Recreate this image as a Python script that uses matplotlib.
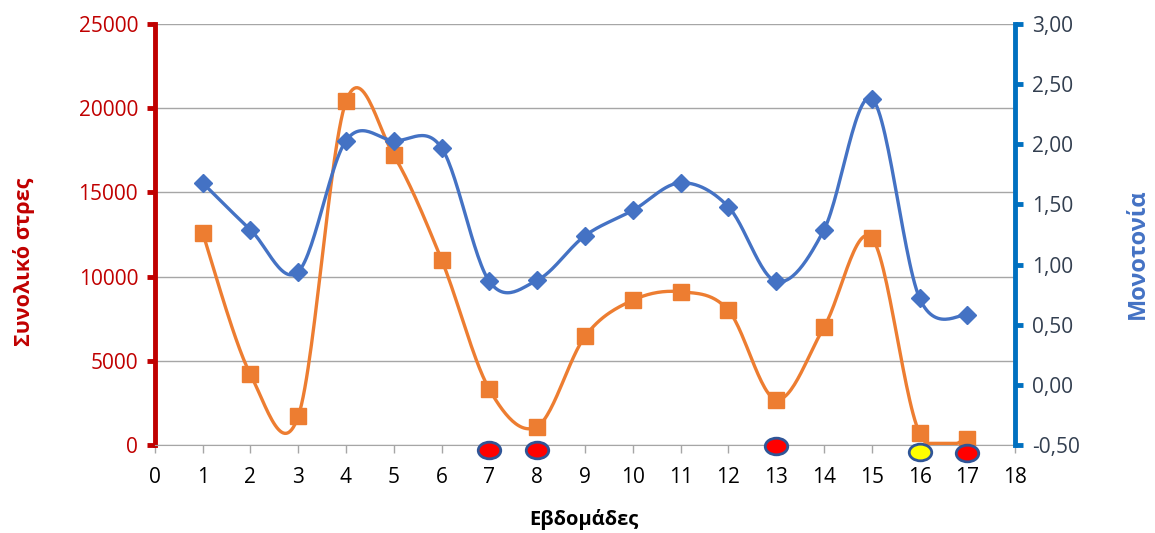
import numpy as np
import matplotlib
matplotlib.use("Agg")
import matplotlib.pyplot as plt
from matplotlib.markers import MarkerStyle
from matplotlib.transforms import Affine2D, offset_copy

plt.rcParams['font.family'] = ['Open Sans', 'DejaVu Sans']

weeks = list(range(1, 18))
stress = [12600, 4200, 1700, 20400, 17200, 11000, 3300, 1100, 6450,
          8600, 9100, 8000, 2700, 7000, 12300, 700, 350]
monotony = [1.68, 1.29, 0.94, 2.03, 2.03, 1.97, 0.86, 0.87, 1.24,
            1.45, 1.68, 1.48, 0.86, 1.29, 2.38, 0.72, 0.58]
flag_weeks = [7, 8, 13, 16, 17]
flag_colors = ["#FF0000", "#FF0000", "#FF0000", "#FFFF00", "#FF0000"]
flag_drop = [-5, -5, -1, -7, -8]   # vertical offset in px below the axis

RED = "#C00000"
BLUE_AX = "#0070C0"
ORANGE = "#ED7D31"
BLUE = "#4472C4"
W, H = 1155, 533


def smooth(x, y, n=30, floor=None):
    """Excel-style smoothed line (Bezier through the points)."""
    x = np.asarray(x, float)
    y = np.asarray(y, float)
    px = np.concatenate([[x[0]], x, [x[-1]]])
    py = np.concatenate([[y[0]], y, [y[-1]]])
    xs, ys = [], []
    t = np.linspace(0, 1, n)
    for i in range(1, len(px) - 2):
        p0, p1, p2, p3 = (np.array([px[j], py[j]]) for j in range(i - 1, i + 3))
        c1 = p1 + (p2 - p0) / 6
        c2 = p2 - (p3 - p1) / 6
        b = (((1 - t) ** 3)[:, None] * p1 + (3 * (1 - t) ** 2 * t)[:, None] * c1
             + (3 * (1 - t) * t ** 2)[:, None] * c2 + (t ** 3)[:, None] * p2)
        xs.extend(b[:, 0])
        ys.extend(b[:, 1])
    ys = np.array(ys)
    if floor is not None:
        ys = np.maximum(ys, floor)
    return np.array(xs), ys


fig = plt.figure(figsize=(W / 100, H / 100), dpi=100)
ax = fig.add_axes([0.134, 0.165, 0.745, 0.79])
ax2 = ax.twinx()

# stress on left axis
sx, sy = smooth(weeks, stress, floor=100)
ax.plot(sx, sy, color=ORANGE, lw=2.4, zorder=3)
ax.plot(weeks, stress, ls="none", marker="s", ms=12, color=ORANGE, zorder=4)

# monotony on right axis
mx, my = smooth(weeks, monotony)
ax2.plot(mx, my, color=BLUE, lw=2.4, zorder=3)
ax2.plot(weeks, monotony, ls="none", marker="D", ms=9.5, color=BLUE, zorder=4)

ax.set_xlim(0, 18)
ax.set_ylim(0, 25000)
ax2.set_ylim(-0.5, 3.0)
ax.set_xticks(range(0, 19))
ax.set_yticks(range(0, 25001, 5000))
ax2.set_yticks(np.arange(-0.5, 3.01, 0.5))
ax2.set_yticklabels([f"{v:.2f}".replace(".", ",") for v in np.arange(-0.5, 3.01, 0.5)])

ax.grid(axis="y", color="#A6A6A6", lw=1)
ax.set_axisbelow(True)

for a in (ax, ax2):
    a.spines["top"].set_visible(False)
ax.spines["right"].set_visible(False)
ax2.spines["left"].set_visible(False)
ax2.spines["bottom"].set_visible(False)
ax.spines["left"].set_color(RED)
ax.spines["left"].set_linewidth(3.5)
ax.spines["bottom"].set_color("#A6A6A6")
ax2.spines["right"].set_color(BLUE_AX)
ax2.spines["right"].set_linewidth(3.5)

ax.tick_params(axis="y", colors=RED, labelcolor=RED, labelsize=15,
               length=6, width=3.5, direction="out", pad=6)
ax.tick_params(axis="x", colors="#A6A6A6", labelcolor="black", labelsize=15,
               length=6, width=1, pad=10)
ax2.tick_params(axis="y", colors=BLUE_AX, labelcolor="#333F50", labelsize=15,
                length=6, width=3.5, pad=6)

# axis titles placed directly in figure pixels
fig.text(24 / W, 1 - 262 / H, "Συνολικό στρες", color=RED, fontsize=15.5,
         fontweight="bold", rotation=90, ha="center", va="center")
fig.text(1138 / W, 1 - 254 / H, "Μονοτονία", color=BLUE, fontsize=17,
         fontweight="bold", rotation=90, ha="center", va="center")
fig.text(584 / W, 1 - 519 / H, "Εβδομάδες", color="black", fontsize=14.5,
         fontweight="bold", ha="center", va="center")

# flagged weeks shown as ellipses just under the x axis
ellipse = MarkerStyle("o", transform=Affine2D().scale(1.35, 1.0))
for wk, col, dy in zip(flag_weeks, flag_colors, flag_drop):
    tr = offset_copy(ax.transData, fig=fig, x=0, y=dy * 0.72, units="points")
    ax.plot([wk], [0], ls="none", marker=ellipse, ms=12, markerfacecolor=col,
            markeredgecolor="#2F5597", markeredgewidth=2, transform=tr,
            clip_on=False, zorder=5)

fig.savefig("out.png", dpi=100)
